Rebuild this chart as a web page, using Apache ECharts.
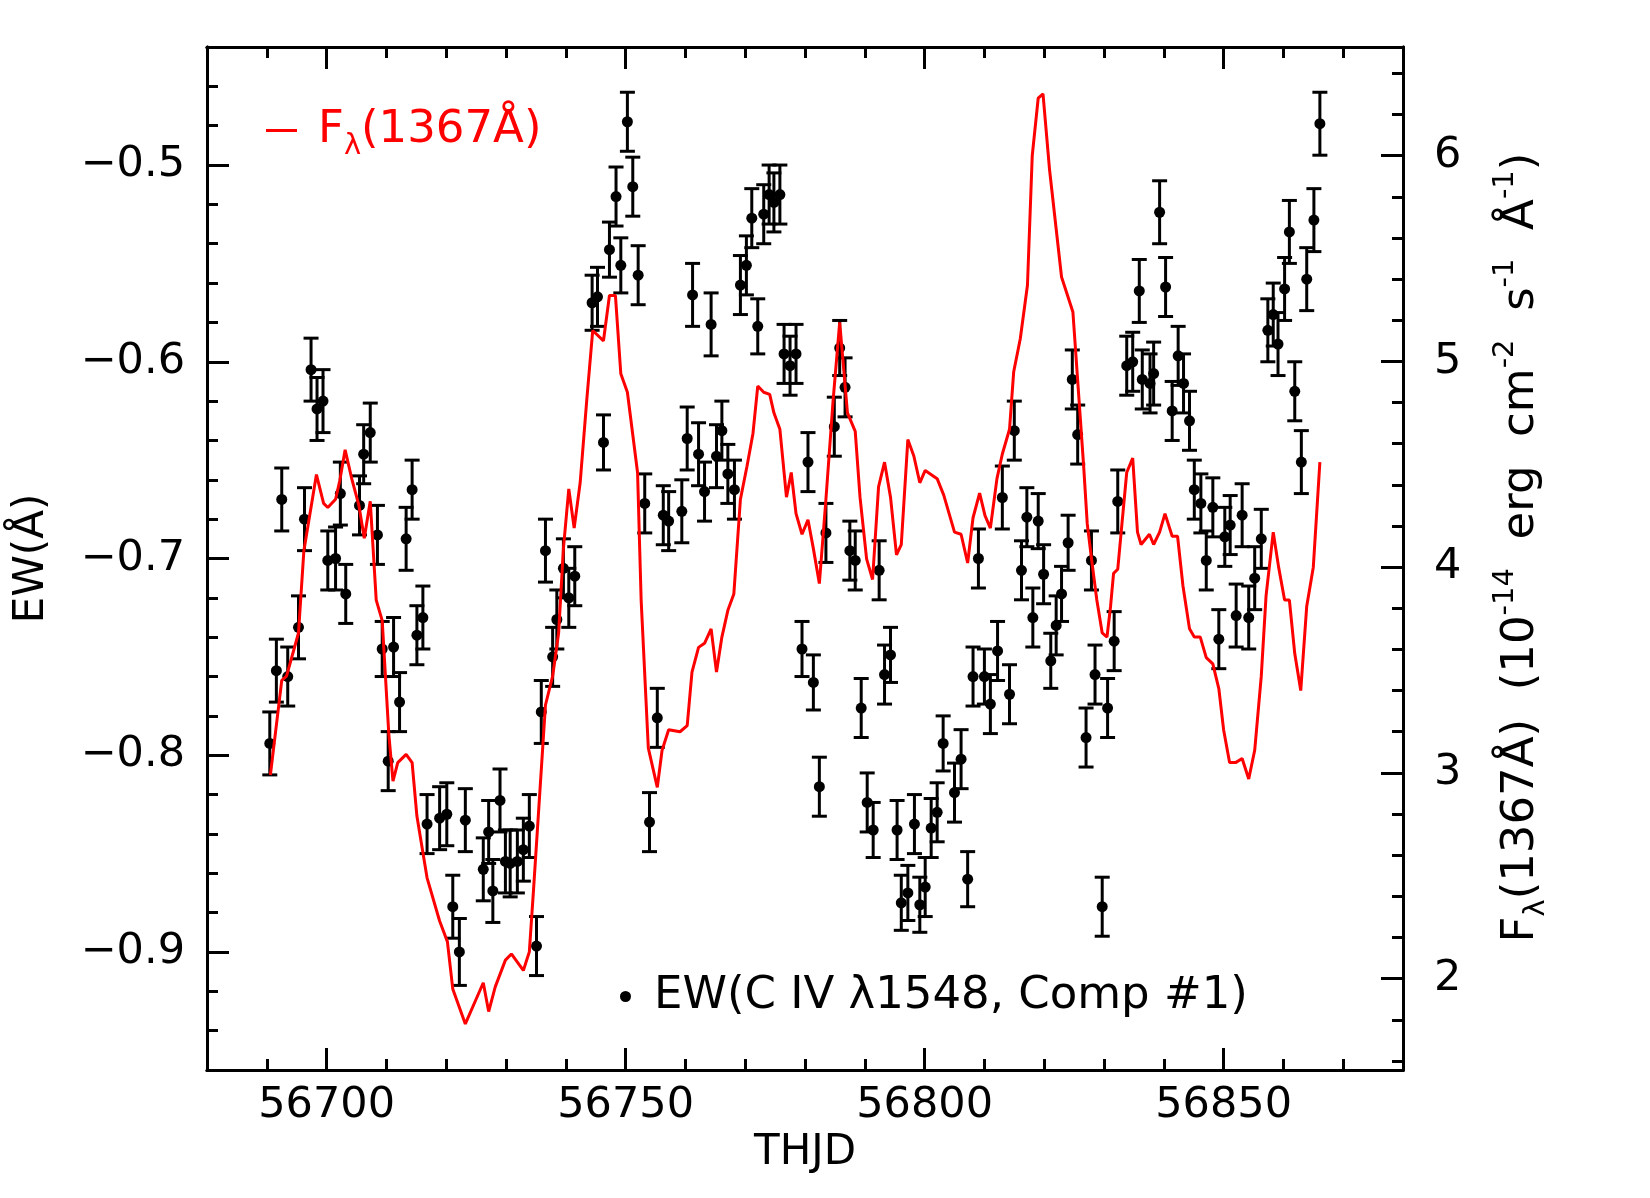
<!DOCTYPE html>
<html>
<head>
<meta charset="utf-8">
<title>EW C IV vs F1367</title>
<script src="https://cdn.jsdelivr.net/npm/echarts@6/dist/echarts.min.js"></script>
<style>
  html, body { margin: 0; padding: 0; background: #fff; }
  #chart { width: 1650px; height: 1198px; }
</style>
</head>
<body>
<div id="chart"></div>
<script>
// EW(C IV 1548, comp #1) measurements
const days = [
  56690.5, 56691.6, 56692.5, 56693.5, 56695.3, 56696.3, 56697.4, 56698.4, 56699.4, 56700.2,
  56701.5, 56702.3, 56703.2, 56705.5, 56706.2, 56707.3, 56708.5, 56709.3, 56710.3, 56711.2,
  56712.2, 56713.3, 56714.3, 56715.1, 56716.1, 56716.8, 56718.9, 56720.1, 56721.1, 56722.2,
  56723.2, 56726.2, 56727.1, 56727.8, 56729.0, 56729.9, 56730.7, 56731.9, 56732.9, 56733.9,
  56735.1, 56735.9, 56736.6, 56737.8, 56738.5, 56739.6, 56740.5, 56741.5, 56744.4, 56745.3,
  56746.3, 56747.3, 56748.4, 56749.2, 56750.3, 56751.2, 56752.1, 56753.2, 56754.0, 56755.3,
  56756.3, 56757.2, 56759.4, 56760.3, 56761.2, 56762.2, 56763.2, 56764.3, 56765.2, 56766.1,
  56767.1, 56768.2, 56769.2, 56770.2, 56771.1, 56772.1, 56773.1, 56774.0, 56774.8, 56775.8,
  56776.5, 56777.5, 56778.5, 56779.5, 56780.5, 56781.4, 56782.4, 56783.5, 56784.9, 56785.8,
  56786.7, 56787.5, 56788.4, 56789.4, 56790.4, 56791.4, 56792.4, 56793.3, 56794.3, 56795.4,
  56796.1, 56797.2, 56798.3, 56799.2, 56800.1, 56801.1, 56802.1, 56803.1, 56805.0, 56806.1,
  56807.2, 56808.1, 56809.0, 56810.0, 56811.0, 56812.2, 56813.0, 56814.2, 56815.0, 56816.2,
  56817.1, 56818.1, 56819.0, 56819.9, 56821.1, 56822.0, 56822.9, 56824.0, 56824.7, 56825.6,
  56827.0, 56827.9, 56828.5, 56829.7, 56830.6, 56831.7, 56832.3, 56833.8, 56834.8, 56835.9,
  56836.4, 56837.7, 56838.3, 56839.3, 56840.3, 56841.4, 56842.4, 56843.3, 56844.3, 56845.1,
  56846.2, 56847.1, 56848.2, 56849.2, 56850.2, 56851.1, 56852.1, 56853.1, 56854.2, 56855.2,
  56856.3, 56857.4, 56858.3, 56859.1, 56860.2, 56861.0, 56861.9, 56863.0, 56863.9, 56865.1, 56866.1
]
const ew = [
  -0.794, -0.757, -0.670, -0.760, -0.735, -0.680, -0.604, -0.624, -0.620, -0.701,
  -0.700, -0.667, -0.718, -0.673, -0.647, -0.636, -0.688, -0.746, -0.803, -0.745,
  -0.773, -0.690, -0.665, -0.739, -0.730, -0.835, -0.832, -0.830, -0.877, -0.900,
  -0.833, -0.858, -0.839, -0.869, -0.823, -0.854, -0.855, -0.854, -0.848, -0.836,
  -0.897, -0.778, -0.696, -0.750, -0.731, -0.705, -0.720, -0.709, -0.570, -0.567,
  -0.641, -0.543, -0.516, -0.551, -0.478, -0.511, -0.556, -0.672, -0.834, -0.781,
  -0.678, -0.681, -0.676, -0.639, -0.566, -0.647, -0.666, -0.581, -0.648, -0.635,
  -0.657, -0.665, -0.561, -0.551, -0.527, -0.582, -0.525, -0.515, -0.519, -0.515,
  -0.596, -0.602, -0.596, -0.746, -0.651, -0.763, -0.816, -0.687, -0.633, -0.593,
  -0.613, -0.696, -0.701, -0.776, -0.824, -0.838, -0.706, -0.759, -0.749, -0.838,
  -0.875, -0.870, -0.835, -0.876, -0.867, -0.837, -0.829, -0.794, -0.819, -0.802,
  -0.863, -0.760, -0.700, -0.760, -0.774, -0.747, -0.669, -0.769, -0.635, -0.706,
  -0.679, -0.730, -0.681, -0.708, -0.752, -0.734, -0.718, -0.692, -0.609, -0.637,
  -0.791, -0.701, -0.759, -0.877, -0.776, -0.742, -0.671, -0.602, -0.600, -0.564,
  -0.609, -0.611, -0.606, -0.524, -0.562, -0.625, -0.597, -0.611, -0.630, -0.665,
  -0.672, -0.701, -0.674, -0.741, -0.689, -0.683, -0.729, -0.678, -0.730, -0.710,
  -0.690, -0.584, -0.576, -0.591, -0.563, -0.534, -0.615, -0.651, -0.558, -0.528, -0.479
]
const ewErr = [
  0.016, 0.016, 0.016, 0.015, 0.016, 0.016, 0.016, 0.016, 0.016, 0.015,
  0.016, 0.016, 0.015, 0.015, 0.015, 0.015, 0.015, 0.014, 0.015, 0.015,
  0.015, 0.016, 0.015, 0.015, 0.016, 0.015, 0.016, 0.016, 0.016, 0.017,
  0.016, 0.016, 0.016, 0.016, 0.016, 0.016, 0.017, 0.016, 0.016, 0.016,
  0.015, 0.016, 0.016, 0.015, 0.015, 0.015, 0.015, 0.015, 0.014, 0.015,
  0.014, 0.014, 0.015, 0.014, 0.015, 0.015, 0.015, 0.015, 0.015, 0.015,
  0.015, 0.015, 0.016, 0.016, 0.016, 0.016, 0.015, 0.016, 0.016, 0.015,
  0.015, 0.015, 0.015, 0.015, 0.015, 0.014, 0.015, 0.015, 0.015, 0.015,
  0.015, 0.015, 0.015, 0.014, 0.015, 0.014, 0.015, 0.015, 0.015, 0.014,
  0.015, 0.015, 0.015, 0.015, 0.015, 0.014, 0.015, 0.015, 0.014, 0.015,
  0.014, 0.014, 0.015, 0.014, 0.015, 0.015, 0.015, 0.014, 0.015, 0.015,
  0.014, 0.015, 0.015, 0.014, 0.015, 0.015, 0.016, 0.015, 0.015, 0.015,
  0.015, 0.015, 0.014, 0.015, 0.014, 0.015, 0.014, 0.014, 0.015, 0.015,
  0.015, 0.015, 0.015, 0.015, 0.015, 0.015, 0.016, 0.015, 0.015, 0.016,
  0.015, 0.015, 0.016, 0.016, 0.015, 0.015, 0.015, 0.015, 0.015, 0.015,
  0.015, 0.015, 0.015, 0.015, 0.015, 0.015, 0.016, 0.016, 0.016, 0.016,
  0.015, 0.016, 0.016, 0.016, 0.016, 0.016, 0.015, 0.016, 0.016, 0.016, 0.016
]

// continuum flux at 1367 A (1e-14 erg cm-2 s-1 A-1)
const fluxDays = [
  56690.6, 56692.5, 56693.3, 56695.3, 56696.2, 56698.3, 56699.5, 56700.2, 56701.5, 56702.2,
  56703.1, 56704.2, 56705.4, 56706.3, 56707.3, 56708.3, 56709.3, 56710.4, 56711.1, 56711.9,
  56713.3, 56714.3, 56715.1, 56716.8, 56718.9, 56720.2, 56721.1, 56723.2, 56726.2, 56727.1,
  56728.2, 56729.9, 56730.9, 56732.9, 56733.9, 56734.6, 56736.6, 56737.8, 56738.8, 56739.6,
  56740.5, 56741.4, 56742.4, 56743.5, 56744.5, 56746.3, 56747.3, 56748.3, 56749.2, 56750.3,
  56752.0, 56752.6, 56753.8, 56755.3, 56756.1, 56757.2, 56759.1, 56760.3, 56761.1, 56762.2,
  56763.2, 56764.3, 56765.2, 56766.1, 56767.1, 56768.1, 56769.2, 56770.3, 56771.3, 56772.1,
  56773.1, 56774.1, 56774.8, 56775.8, 56776.9, 56777.7, 56778.5, 56779.5, 56780.5, 56781.4,
  56782.4, 56783.5, 56784.7, 56785.8, 56787.1, 56788.4, 56789.2, 56790.3, 56791.3, 56792.3,
  56793.3, 56794.3, 56795.3, 56796.1, 56797.2, 56798.2, 56799.2, 56800.1, 56802.1, 56803.2,
  56805.0, 56806.1, 56807.2, 56808.1, 56809.2, 56810.1, 56811.0, 56812.1, 56813.0, 56814.2,
  56814.9, 56816.0, 56817.2, 56818.0, 56819.0, 56819.8, 56820.9, 56822.9, 56824.8, 56826.6,
  56827.2, 56828.0, 56828.8, 56829.7, 56830.5, 56831.1, 56831.6, 56832.3, 56833.0, 56833.8,
  56834.8, 56835.6, 56836.2, 56837.6, 56838.3, 56839.3, 56840.2, 56841.4, 56842.3, 56843.2,
  56844.3, 56845.1, 56846.1, 56847.1, 56848.2, 56849.2, 56850.0, 56851.0, 56852.0, 56853.1,
  56854.2, 56855.2, 56856.3, 56857.1, 56858.3, 56859.2, 56860.2, 56861.0, 56861.9, 56862.9,
  56863.9, 56865.0, 56866.1
]
const flux = [
  2.99, 3.45, 3.47, 3.68, 4.08, 4.45, 4.31, 4.29, 4.33, 4.42,
  4.57, 4.43, 4.30, 4.14, 4.32, 3.84, 3.74, 3.19, 2.96, 3.05,
  3.09, 3.05, 2.79, 2.49, 2.28, 2.18, 1.95, 1.78, 1.98, 1.84,
  1.96, 2.09, 2.12, 2.04, 2.13, 2.43, 3.33, 3.47, 3.68, 4.09,
  4.38, 4.19, 4.41, 4.81, 5.15, 5.10, 5.32, 5.32, 4.94, 4.85,
  4.46, 3.84, 3.12, 2.93, 3.11, 3.21, 3.20, 3.23, 3.49, 3.61,
  3.63, 3.70, 3.49, 3.66, 3.79, 3.87, 4.33, 4.49, 4.65, 4.88,
  4.85, 4.84, 4.75, 4.67, 4.34, 4.46, 4.26, 4.16, 4.23, 4.09,
  3.92, 4.33, 4.81, 5.19, 4.75, 4.66, 4.34, 4.04, 3.94, 4.39,
  4.51, 4.34, 4.06, 4.11, 4.62, 4.54, 4.41, 4.47, 4.43, 4.35,
  4.17, 4.16, 4.02, 4.24, 4.36, 4.25, 4.19, 4.43, 4.55, 4.67,
  4.95, 5.11, 5.37, 6.00, 6.28, 6.30, 5.93, 5.41, 5.24, 4.49,
  4.21, 4.02, 3.84, 3.68, 3.66, 3.81, 3.97, 3.99, 4.21, 4.46,
  4.53, 4.17, 4.11, 4.16, 4.11, 4.17, 4.26, 4.15, 4.15, 3.91,
  3.70, 3.66, 3.66, 3.56, 3.53, 3.41, 3.21, 3.05, 3.05, 3.07,
  2.97, 3.11, 3.47, 3.86, 4.17, 4.00, 3.84, 3.84, 3.58, 3.40,
  3.81, 4.00, 4.51
]

// tick positions
const xMajorTicks = [56700, 56750, 56800, 56850]
const xMinorTicks = [56690, 56710, 56720, 56730, 56740, 56760, 56770, 56780, 56790,
  56810, 56820, 56830, 56840, 56860, 56870]
const ewMajorTicks = [-0.9, -0.8, -0.7, -0.6, -0.5]
const ewMinorTicks = [-0.94, -0.92, -0.88, -0.86, -0.84, -0.82, -0.78, -0.76, -0.74, -0.72,
  -0.68, -0.66, -0.64, -0.62, -0.58, -0.56, -0.54, -0.52, -0.48, -0.46]
const fluxMajorTicks = [2, 3, 4, 5, 6]
const fluxMinorTicks = [1.6, 1.8, 2.2, 2.4, 2.6, 2.8, 3.2, 3.4, 3.6, 3.8, 4.2, 4.4, 4.6, 4.8,
  5.2, 5.4, 5.6, 5.8, 6.2, 6.4]

const FONT = 'DejaVu Sans'
const xRange = [56680, 56880]
const ewRange = [-0.96, -0.44]
const fluxRange = [1.556, 6.528]

const ewData = days.map((d, i) => [d, ew[i], ewErr[i]])
const fluxData = fluxDays.map((d, i) => [d, flux[i]])

function errorBar(params, api) {
  const x = api.value(0)
  const y = api.value(1)
  const e = api.value(2)
  const c = api.coord([x, y])
  const lo = api.coord([x, y - e])
  const hi = api.coord([x, y + e])
  const cap = 7.5
  const st = { stroke: '#000', lineWidth: 3 }
  return {
    type: 'group',
    children: [
      { type: 'line', shape: { x1: c[0], y1: lo[1], x2: c[0], y2: hi[1] }, style: st },
      { type: 'line', shape: { x1: c[0] - cap, y1: lo[1], x2: c[0] + cap, y2: lo[1] }, style: st },
      { type: 'line', shape: { x1: c[0] - cap, y1: hi[1], x2: c[0] + cap, y2: hi[1] }, style: st },
      { type: 'circle', shape: { cx: c[0], cy: c[1], r: 5.5 }, style: { fill: '#000' } }
    ]
  }
}

function tickAxis(base, values, length, extra) {
  return Object.assign({
    type: 'value',
    splitLine: { show: false },
    axisLine: { show: true, lineStyle: { color: '#000', width: 3 } },
    axisTick: { show: true, inside: true, length: length, customValues: values,
      lineStyle: { color: '#000', width: 3 } },
    axisLabel: { show: false }
  }, base, extra || {})
}

const labelStyle = { color: '#000', fontFamily: FONT, fontSize: 43 }
const minus = v => (v < 0 ? '\u2212' : '') + Math.abs(v).toFixed(1)

const rich = (color, size) => ({
  a: { color: color, fontFamily: FONT, fontSize: size, lineHeight: 60 },
  sub: { color: color, fontFamily: FONT, fontSize: Math.round(size * 0.64), lineHeight: 27, verticalAlign: 'bottom' },
  sup: { color: color, fontFamily: FONT, fontSize: Math.round(size * 0.64), lineHeight: 27, verticalAlign: 'top' },
  sp: { width: 16 },
  sp2: { width: 18 },
  sp3: { width: 22 }
})

const chart = echarts.init(document.getElementById('chart'))

chart.setOption({
  animation: false,
  backgroundColor: '#fff',
  textStyle: { fontFamily: FONT },
  grid: { left: 207, right: 247, top: 47, bottom: 128 },
  xAxis: [
    tickAxis({ min: xRange[0], max: xRange[1], position: 'bottom' }, xMajorTicks, 22, {
      axisLabel: Object.assign({ show: true, customValues: xMajorTicks, margin: 14,
        formatter: v => String(v) }, labelStyle),
      name: 'THJD',
      nameLocation: 'middle',
      nameGap: 62,
      nameTextStyle: { color: '#000', fontFamily: FONT, fontSize: 42 }
    }),
    tickAxis({ min: xRange[0], max: xRange[1], position: 'bottom' }, xMinorTicks, 11),
    tickAxis({ min: xRange[0], max: xRange[1], position: 'top' }, xMajorTicks, 22),
    tickAxis({ min: xRange[0], max: xRange[1], position: 'top' }, xMinorTicks, 11)
  ],
  yAxis: [
    tickAxis({ min: ewRange[0], max: ewRange[1], position: 'left' }, ewMajorTicks, 22, {
      axisLabel: Object.assign({ show: true, customValues: ewMajorTicks, margin: 22,
        formatter: minus }, labelStyle),
      name: 'EW(Å)',
      nameLocation: 'middle',
      nameGap: 154,
      nameTextStyle: { color: '#000', fontFamily: FONT, fontSize: 42 }
    }),
    tickAxis({ min: ewRange[0], max: ewRange[1], position: 'left' }, ewMinorTicks, 11),
    tickAxis({ min: fluxRange[0], max: fluxRange[1], position: 'right' }, fluxMajorTicks, 22, {
      axisLabel: Object.assign({ show: true, customValues: fluxMajorTicks, margin: 31,
        formatter: v => String(v) }, labelStyle),
      name: '{sp3|}{a|F}{sub|λ}{a|(1367Å)  (10}{sup|-14}{a|  erg  cm}{sup|-2}{a|  s}{sup|-1}{a|  Å}{sup|-1}{a|)}',
      nameLocation: 'middle',
      nameRotate: 90,
      nameGap: 88,
      nameTextStyle: { rich: rich('#000', 45) }
    }),
    tickAxis({ min: fluxRange[0], max: fluxRange[1], position: 'right' }, fluxMinorTicks, 11)
  ],
  legend: [
    {
      data: [{ name: 'F1367', icon: 'rect' }],
      left: 266, top: 108, padding: 0,
      itemWidth: 31, itemHeight: 3,
      selectedMode: false,
      formatter: () => '{sp|}{a|F}{sub|λ}{a|(1367Å)}',
      textStyle: { rich: rich('#ff0000', 45) }
    },
    {
      data: [{ name: 'EW', icon: 'circle' }],
      left: 620, top: 974, padding: 0,
      itemWidth: 11, itemHeight: 11,
      selectedMode: false,
      formatter: () => '{sp2|}{a|EW(C IV λ1548, Comp #1)}',
      textStyle: { rich: rich('#000', 45) }
    }
  ],
  series: [
    {
      name: 'EW',
      type: 'custom',
      xAxisIndex: 0,
      yAxisIndex: 0,
      renderItem: errorBar,
      itemStyle: { color: '#000' },
      encode: { x: 0, y: 1 },
      data: ewData,
      z: 2
    },
    {
      name: 'F1367',
      type: 'line',
      xAxisIndex: 0,
      yAxisIndex: 2,
      data: fluxData,
      showSymbol: false,
      symbol: 'none',
      itemStyle: { color: '#ff0000' },
      lineStyle: { color: '#ff0000', width: 3 },
      z: 3
    }
  ]
})
</script>
</body>
</html>
